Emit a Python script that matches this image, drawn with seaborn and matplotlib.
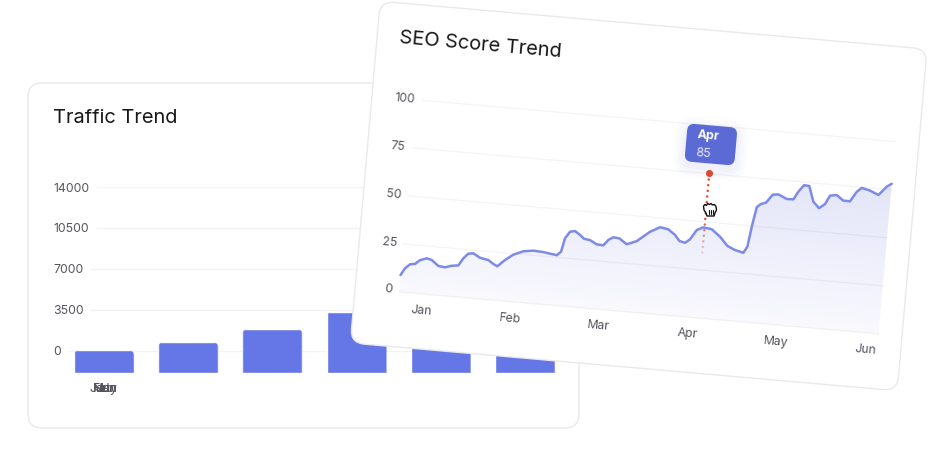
import numpy as np
import seaborn as sns
import matplotlib.pyplot as plt
from matplotlib.colors import LinearSegmentedColormap, to_rgba
from matplotlib.patches import FancyBboxPatch, Polygon
from matplotlib.transforms import Affine2D, IdentityTransform

sns.set_theme(style="white")
plt.rcParams['font.family'] = ['Inter', 'DejaVu Sans']

W, H = 944, 455
TILT = 5
TICK_COLOR = "#55555e"
TITLE_COLOR = "#18181b"
GRID_COLOR = "#f3f3f5"
EDGE_COLOR = "#e9e9ed"
BAR_COLOR = "#6577e6"
LINE_COLOR = "#7c8be9"
TIP_COLOR = "#5b6ad4"
RED = "#e04a2c"

## Traffic data
months = ["Jan", "Feb", "Mar", "Apr", "May", "Jun"]
traffic = [80, 770, 1880, 3330, 3000, 2600]
traffic_floor = -1880
traffic_ticks = [14000, 10500, 7000, 3500, 0]
traffic_grid_start = [-0.1, -0.1, -0.17, -0.17, -0.43]
traffic_label_pos = [-0.05, 0, 0.02, 0.02, 0.01, 0.02]

## SEO data, x runs along the plot width
seo_pos = [0, 3.9, 8.6, 13.5, 18.2, 24.7, 29.8, 36.9, 43.7, 50.2, 56.8, 61.2, 65.7,
           70.7, 77.7, 86.2, 91.5, 95.7, 102.8, 110.6, 120.3, 130.2, 140.3, 153.9,
           157.9, 160.7, 165.1, 170, 175.4, 179.7, 185.8, 192.8, 199.5, 204, 208.8,
           214.8, 222.7, 232.4, 244.8, 254.4, 262.8, 270, 274.8, 280.6, 285.3, 291.2,
           297.5, 306.1, 315, 323.1, 331.1, 339.6, 343.1, 345.7, 349, 352.7, 357.9,
           363.8, 369.4, 378.2, 384.8, 389.1, 394.2, 399.5, 404.9, 411.1, 416.7, 421,
           427.6, 434.7, 441.4, 447.3, 451.9, 460.4, 469.1, 476.7, 481.4]
seo_score = [8.8, 12.5, 14.8, 15.2, 17.4, 18.6, 18, 15.2, 14.8, 15.9, 16.4, 20.3, 22.9,
             23.3, 21.3, 20.5, 18.7, 17.7, 21.3, 24.4, 26.6, 27.4, 27.1, 26.1,
             28.1, 35.2, 38.8, 39.4, 37.6, 35.8, 35.4, 33.5, 33.3, 36.3, 37.9,
             37.6, 34.9, 37, 42.4, 45.2, 44.5, 41.9, 39, 38.3, 40.3, 45.4,
             47.1, 46.5, 43, 38.6, 36.8, 35.8, 39.1, 49.6, 59.9, 61.7, 62.7,
             67.1, 67.5, 65.5, 65.6, 69.8, 73.4, 73.2, 65.3, 62.2, 64.6, 69.2,
             69.8, 67.2, 67.2, 72.4, 74.6, 73.6, 71.7, 76.4, 78.1]
seo_ticks = [100, 75, 50, 25, 0]
seo_grid_start = [7, 0, 0, 0, 0]
seo_month_pos = [23.6, 112.7, 201.8, 290.9, 380, 469.1]
hover_pos = 298.7
hover_top = 75.2
hover_bottom = 34
hover_label = "Apr"
hover_value = "85"

fig = plt.figure(figsize=(W / 100, H / 100), dpi=100, facecolor="white")


def pixel_axes(zorder):
    a = fig.add_axes([0, 0, 1, 1], zorder=zorder)
    a.set_xlim(0, W)
    a.set_ylim(H, 0)
    a.axis("off")
    return a


## Tilt used by the whole second card
cx, cy = 638.75, 196
tilt = Affine2D().rotate_deg_around(cx, H - cy, -TILT)

## Traffic card
ax_back = pixel_axes(0)
ax_back.add_patch(FancyBboxPatch((42, 97), 523, 317, boxstyle="round,pad=14,rounding_size=14",
                                 fc="white", ec=EDGE_COLOR, lw=1))
ax_back.text(53, 118, "Traffic Trend", fontsize=14.4, color=TITLE_COLOR, va="center")

ax_bar = fig.add_axes([62 / W, (H - 373) / H, 505 / W, 186 / H], zorder=1)
ax_bar.patch.set_alpha(0)
sns.barplot(x=months, y=traffic, color=BAR_COLOR, saturation=1, width=0.713, ax=ax_bar)
ax_bar.set_xlim(-0.5, 5.5)
ax_bar.set_ylim(traffic_floor, 14000)
ax_bar.hlines(traffic_ticks, traffic_grid_start, 5.5, color=GRID_COLOR, lw=1, zorder=0)
sns.despine(ax=ax_bar, left=True, bottom=True)
ax_bar.set_yticks(traffic_ticks, [str(t) for t in traffic_ticks])
ax_bar.set_xticks(traffic_label_pos, months)
ax_bar.tick_params(axis="both", length=0, colors=TICK_COLOR, labelsize=8.8)
ax_bar.tick_params(axis="x", pad=7.5)
ax_bar.tick_params(axis="y", pad=6.5)
for lab in ax_bar.get_yticklabels():
    lab.set_ha("left")

## bars start below zero and only the top corners are round
for bar, val in zip(ax_bar.patches, traffic):
    bar.set_y(traffic_floor)
    bar.set_height(val - traffic_floor)
    (x0, y0), (x1, y1) = ax_bar.transData.transform(
        [(bar.get_x(), traffic_floor), (bar.get_x() + bar.get_width(), val)])
    r = 6
    clip = FancyBboxPatch((x0 + r, y0), x1 - x0 - 2 * r, y1 - y0 - r,
                          boxstyle=f"round,pad={r},rounding_size={r}",
                          transform=IdentityTransform())
    bar.set_clip_path(clip)

## SEO card
ax_card = pixel_axes(2)
card_tf = ax_card.transData + tilt
ax_card.add_patch(FancyBboxPatch((378.25, 38.5), 521, 315, boxstyle="round,pad=14,rounding_size=14",
                                 fc="white", ec=EDGE_COLOR, lw=1, transform=card_tf))
ax_card.text(387, 59.4, "SEO Score Trend", fontsize=14.4, color=TITLE_COLOR, va="center",
             ha="left", rotation=-TILT, rotation_mode="anchor", transform=card_tf)

ax_seo = fig.add_axes([408.3 / W, (H - 312.5) / H, 482 / W, 193 / H], zorder=3)
ax_seo.axis("off")
ax_seo.set_xlim(0, 482)
ax_seo.set_ylim(0, 100)
seo_tf = ax_seo.transData + tilt

## gradient under the curve
fade = LinearSegmentedColormap.from_list("fade", ["#f9f9fe", "#e2e5f8"])
im = ax_seo.imshow(np.linspace(1, 0, 256).reshape(-1, 1), cmap=fade, aspect="auto",
                   extent=(0, 482, 0, 80), transform=seo_tf, zorder=1)
area = ax_seo.fill_between(seo_pos, seo_score, 0, color="none", transform=seo_tf)
im.set_clip_box(fig.bbox)
im.set_clip_path(area.get_paths()[0], seo_tf)
ax_seo.set_xlim(0, 482)
ax_seo.set_ylim(0, 100)

for tick, start in zip(seo_ticks, seo_grid_start):
    ln, = ax_seo.plot([start, 482], [tick, tick], color="black", alpha=0.045, lw=1,
                      transform=seo_tf, zorder=2)
    ln.set_clip_on(False)

sns.lineplot(x=seo_pos, y=seo_score, color=LINE_COLOR, lw=1.8, errorbar=None, ax=ax_seo,
             transform=seo_tf, zorder=3, solid_joinstyle="round", solid_capstyle="round")
ax_seo.lines[-1].set_clip_on(False)
ax_seo.set_xlim(0, 482)
ax_seo.set_ylim(0, 100)

for tick in seo_ticks[:-1]:
    ax_seo.text(-21.5, tick, str(tick), fontsize=8.8, color=TICK_COLOR, ha="left", va="center",
                rotation=-TILT, rotation_mode="anchor", transform=seo_tf)
ax_seo.text(-7.4, 0.8, "0", fontsize=8.8, color=TICK_COLOR, ha="right", va="center",
            rotation=-TILT, rotation_mode="anchor", transform=seo_tf)
for pos, name in zip(seo_month_pos, months):
    ax_seo.text(pos, -8.8, name, fontsize=8.8, color=TICK_COLOR, ha="center", va="center",
                rotation=-TILT, rotation_mode="anchor", transform=seo_tf)

## dotted hover guide, fades out downwards
guide_v = np.linspace(hover_top - 3.2, hover_bottom, 14)
guide_a = np.clip((guide_v - hover_bottom) / 18, 0.0, 1) * 0.8 + 0.2
ax_seo.scatter([hover_pos] * 14, guide_v, s=3, color=[to_rgba(RED, a) for a in guide_a],
               linewidths=0, transform=seo_tf, zorder=4, clip_on=False)
ax_seo.scatter([hover_pos], [hover_top], s=26, color=RED, linewidths=0,
               transform=seo_tf, zorder=5, clip_on=False)

## tooltip and cursor on top of it all
ax_tip = pixel_axes(4)
tip_tf = ax_tip.transData + tilt
for grow, alpha in [(12, 0.012), (9, 0.018), (6, 0.025), (3, 0.03)]:
    ax_tip.add_patch(FancyBboxPatch((688.2, 126.4 + 4), 36, 24,
                                    boxstyle=f"round,pad={7 + grow},rounding_size={7 + grow}",
                                    fc=TIP_COLOR, ec="none", alpha=alpha, transform=tip_tf))
ax_tip.add_patch(FancyBboxPatch((688.2, 126.4), 36, 24, boxstyle="round,pad=7,rounding_size=7",
                                fc=TIP_COLOR, ec="none", transform=tip_tf))
ax_tip.text(691.5, 130.2, hover_label, fontsize=9, fontweight="bold", color="white", va="center",
            rotation=-TILT, rotation_mode="anchor", transform=tip_tf)
ax_tip.text(692, 148.2, hover_value, fontsize=9, color="#e6e8fb", va="center",
            rotation=-TILT, rotation_mode="anchor", transform=tip_tf)

hand = [(703.5, 206), (705, 204.5), (706.5, 205.5), (707.5, 203.5), (709.5, 204.5), (711, 203.5),
        (712.5, 205), (714.5, 204.5), (716, 206.5), (716.5, 210), (715, 213), (714, 216),
        (707, 216), (706, 213), (704, 210)]
ax_tip.add_patch(Polygon(hand, closed=True, fc="white", ec="#111111", lw=1, joinstyle="round"))
for x in [708.5, 710.5, 712.5]:
    ax_tip.plot([x, x], [210, 213.5], color="#111111", lw=0.8)

fig.savefig("out.png", dpi=100)
